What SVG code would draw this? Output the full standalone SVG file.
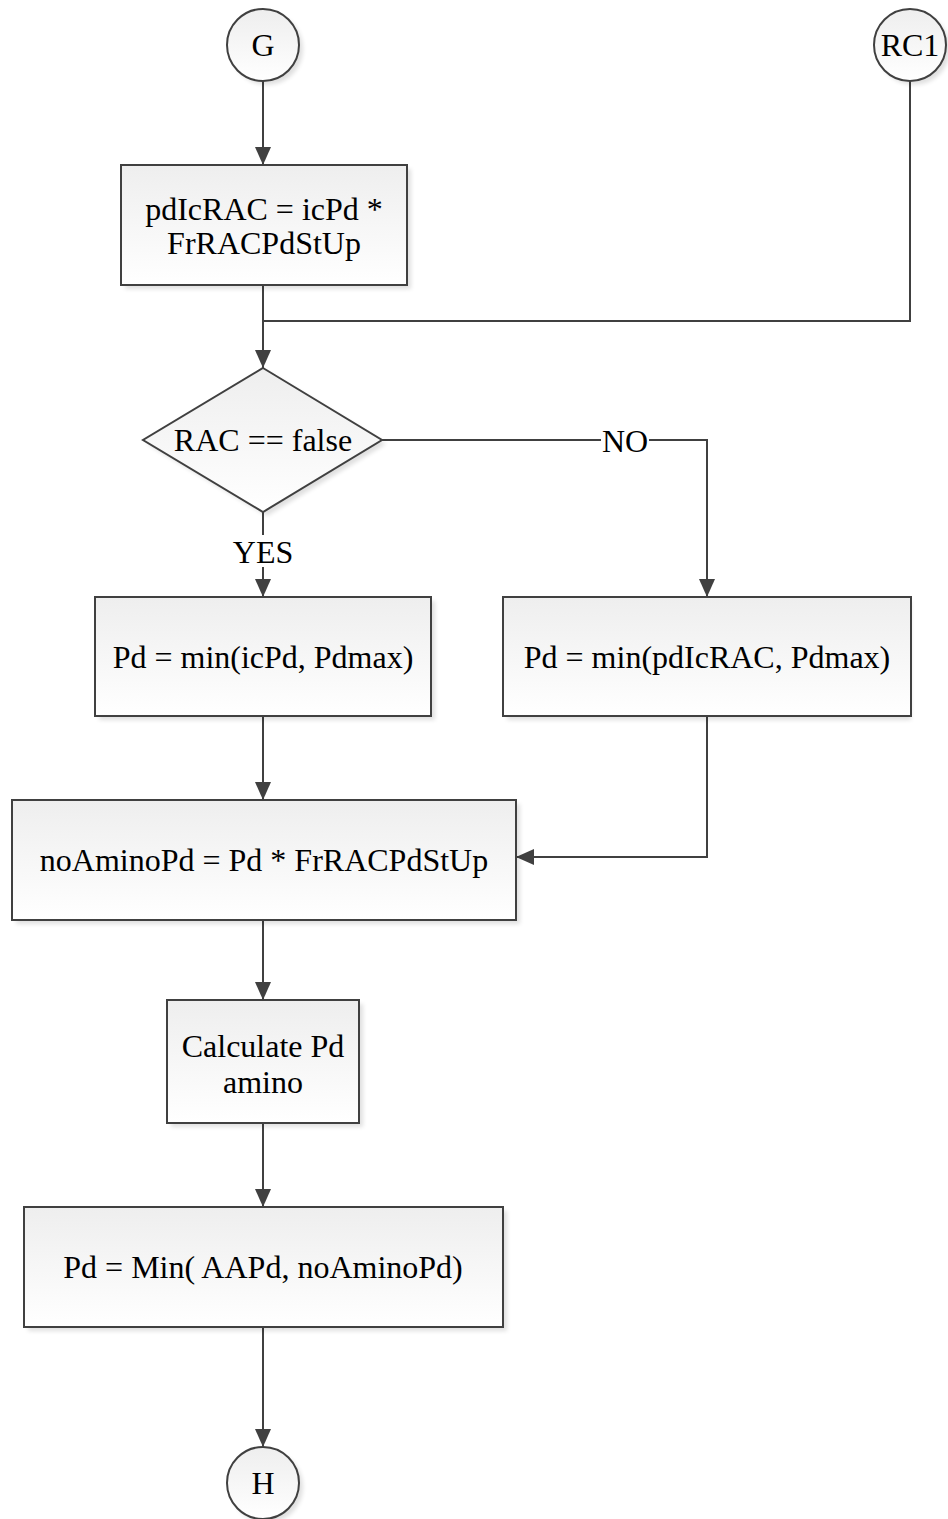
<svg xmlns="http://www.w3.org/2000/svg" width="948" height="1519" viewBox="0 0 948 1519">
  <style>
    .shape { stroke: #404040; stroke-width: 2; fill: url(#boxFill); }
    .shadow { fill: #000; opacity: 0.12; filter: url(#soft); }
    .label { font-family: "Liberation Serif", "Times New Roman", serif; font-size: 32px; fill: #000; text-anchor: middle; dominant-baseline: central; }
    .wire { fill: none; stroke: #404040; stroke-width: 2; }
  </style>
  <defs>
    <linearGradient id="boxFill" x1="0" y1="0" x2="0" y2="1">
      <stop offset="0" stop-color="#eeeeee"/>
      <stop offset="1" stop-color="#ffffff"/>
    </linearGradient>
    <filter id="soft" x="-10%" y="-10%" width="120%" height="120%">
      <feGaussianBlur stdDeviation="2"/>
    </filter>
    <marker id="arrow" viewBox="0 0 18 16" refX="18" refY="8" markerWidth="18" markerHeight="16" markerUnits="userSpaceOnUse" orient="auto">
      <path d="M0,0 L18,8 L0,16 Z" fill="#404040"/>
    </marker>
  </defs>

  <!-- connectors -->
  <g id="connectors">
    <path class="wire" d="M263,81 L263,165" marker-end="url(#arrow)"/>
    <path class="wire" d="M263,285 L263,368" marker-end="url(#arrow)"/>
    <path class="wire" d="M910,81 L910,321 L263,321"/>
    <path class="wire" d="M382,440 L707,440 L707,597" marker-end="url(#arrow)"/>
    <path class="wire" d="M263,512 L263,597" marker-end="url(#arrow)"/>
    <path class="wire" d="M263,716 L263,800" marker-end="url(#arrow)"/>
    <path class="wire" d="M707,716 L707,857 L516,857" marker-end="url(#arrow)"/>
    <path class="wire" d="M263,920 L263,1000" marker-end="url(#arrow)"/>
    <path class="wire" d="M263,1123 L263,1207" marker-end="url(#arrow)"/>
    <path class="wire" d="M263,1327 L263,1447" marker-end="url(#arrow)"/>
    <!-- branch labels -->
    <rect x="601" y="426" width="48" height="28" fill="#fff"/>
    <text class="label" x="625" y="441">NO</text>
    <rect x="232" y="535" width="62" height="32" fill="#fff"/>
    <text class="label" x="263" y="552">YES</text>
  </g>

  <g id="G">
    <circle class="shadow" cx="267" cy="49" r="36"/>
    <circle class="shape" cx="263" cy="45" r="36"/>
    <text class="label" x="263" y="45">G</text>
  </g>

  <g id="RC1">
    <circle class="shadow" cx="914" cy="49" r="36"/>
    <circle class="shape" cx="910" cy="45" r="36"/>
    <text class="label" x="910" y="45">RC1</text>
  </g>

  <g id="calcPdIcRAC">
    <rect class="shadow" x="125" y="169" width="286" height="120"/>
    <rect class="shape" x="121" y="165" width="286" height="120"/>
    <text class="label" x="264" y="209">pdIcRAC = icPd *</text>
    <text class="label" x="264" y="243">FrRACPdStUp</text>
  </g>

  <g id="racFalse">
    <polygon class="shadow" points="267,372 386,444 267,516 147,444"/>
    <polygon class="shape" points="263,368 382,440 263,512 143,440"/>
    <text class="label" x="263" y="440">RAC == false</text>
  </g>

  <g id="pdMinIcPd">
    <rect class="shadow" x="99" y="601" width="336" height="119"/>
    <rect class="shape" x="95" y="597" width="336" height="119"/>
    <text class="label" x="263" y="657">Pd = min(icPd, Pdmax)</text>
  </g>

  <g id="pdMinPdIcRAC">
    <rect class="shadow" x="507" y="601" width="404" height="119"/>
    <rect class="shape" x="503" y="597" width="408" height="119"/>
    <text class="label" x="707" y="657">Pd = min(pdIcRAC, Pdmax)</text>
  </g>

  <g id="noAminoPd">
    <rect class="shadow" x="16" y="804" width="504" height="120"/>
    <rect class="shape" x="12" y="800" width="504" height="120"/>
    <text class="label" x="264" y="860">noAminoPd = Pd * FrRACPdStUp</text>
  </g>

  <g id="calcPdAmino">
    <rect class="shadow" x="171" y="1004" width="192" height="123"/>
    <rect class="shape" x="167" y="1000" width="192" height="123"/>
    <text class="label" x="263" y="1046">Calculate Pd</text>
    <text class="label" x="263" y="1082">amino</text>
  </g>

  <g id="pdMinAAPd">
    <rect class="shadow" x="28" y="1211" width="479" height="120"/>
    <rect class="shape" x="24" y="1207" width="479" height="120"/>
    <text class="label" x="263" y="1267">Pd = Min( AAPd, noAminoPd)</text>
  </g>

  <g id="H">
    <circle class="shadow" cx="267" cy="1487" r="36"/>
    <circle class="shape" cx="263" cy="1483" r="36"/>
    <text class="label" x="263" y="1483">H</text>
  </g>
</svg>
